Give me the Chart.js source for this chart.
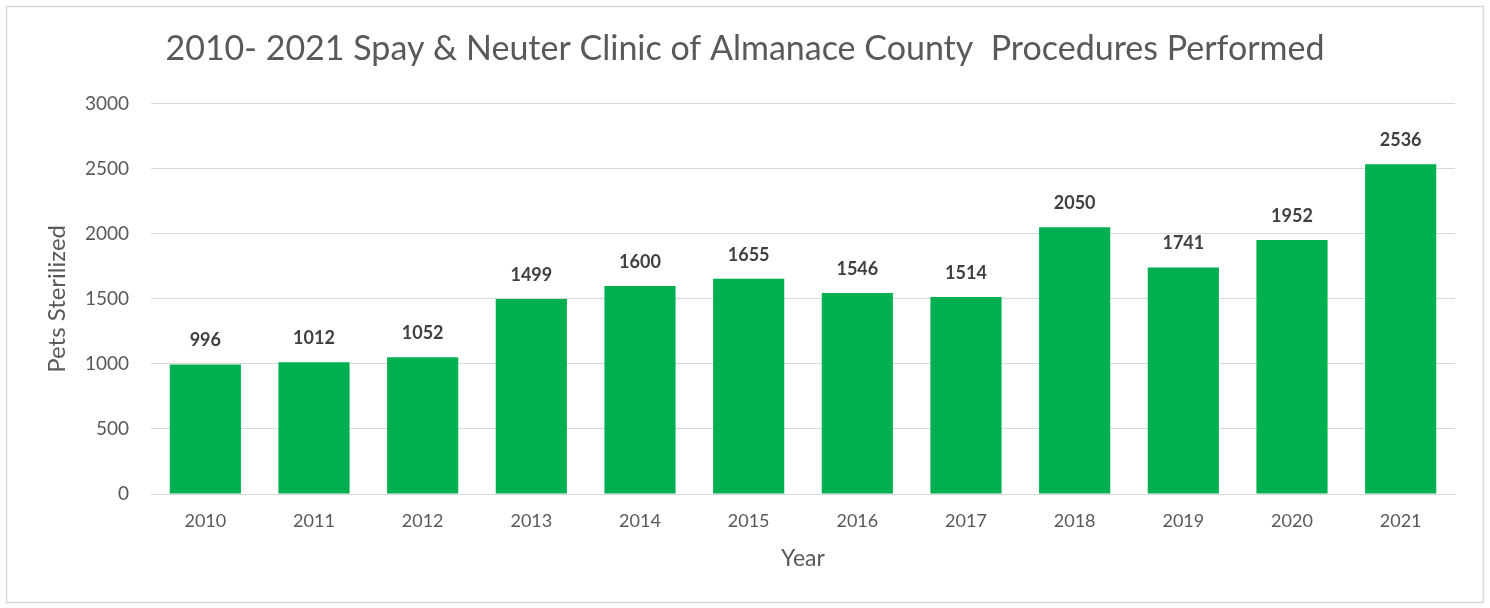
<!DOCTYPE html>
<html>
<head>
<meta charset="utf-8">
<title>Spay & Neuter Clinic Procedures</title>
<script src="https://cdn.jsdelivr.net/npm/chart.js@4"></script>
<style>
  html, body { margin: 0; padding: 0; background: #fff; }
  #chart-box { width: 1490px; height: 608px; }
</style>
</head>
<body>
<div id="chart-box"><canvas id="chart-canvas" width="1490" height="608"></canvas></div>
<script>
var years = ['2010', '2011', '2012', '2013', '2014', '2015', '2016', '2017', '2018', '2019', '2020', '2021'];
var petsSterilized = [996, 1012, 1052, 1499, 1600, 1655, 1546, 1514, 2050, 1741, 1952, 2536];
var yTicks = [0, 500, 1000, 1500, 2000, 2500, 3000];

var chartTitle = '2010- 2021 Spay & Neuter Clinic of Almanace County  Procedures Performed';
var fontName = 'Lato, "Open Sans", sans-serif';

// outer frame like the spreadsheet chart border
var framePlugin = {
  id: 'frame',
  beforeDraw: function(chart) {
    var ctx = chart.ctx;
    ctx.save();
    ctx.fillStyle = '#ffffff';
    ctx.fillRect(0, 0, chart.width, chart.height);
    ctx.strokeStyle = '#d9d9d9';
    ctx.lineWidth = 1.5;
    ctx.strokeRect(6.5, 6.5, chart.width - 13, chart.height - 12);
    ctx.restore();
  }
};

// value labels above each bar
var valueLabels = {
  id: 'valueLabels',
  afterDatasetsDraw: function(chart) {
    var ctx = chart.ctx;
    var meta = chart.getDatasetMeta(0);
    ctx.save();
    ctx.font = 'bold 18px ' + fontName;
    ctx.fillStyle = '#404040';
    ctx.textAlign = 'center';
    ctx.textBaseline = 'middle';
    for (var i = 0; i < meta.data.length; i++) {
      var bar = meta.data[i];
      ctx.fillText(String(petsSterilized[i]), bar.x, bar.y - 24);
    }
    ctx.restore();
  }
};

var chart = new Chart(document.getElementById('chart-canvas').getContext('2d'), {
  type: 'bar',
  data: {
    labels: years,
    datasets: [{
      label: 'Pets Sterilized',
      data: petsSterilized,
      backgroundColor: '#00b050',
      borderWidth: 0,
      barPercentage: 0.655,
      categoryPercentage: 1
    }]
  },
  options: {
    responsive: false,
    animation: false,
    devicePixelRatio: 1,
    layout: {
      padding: { top: 8, left: 8, right: 8, bottom: 34 }
    },
    plugins: {
      legend: { display: false },
      tooltip: { enabled: false },
      title: {
        display: true,
        text: chartTitle,
        color: '#595959',
        font: { family: fontName, size: 34, weight: 'normal' },
        padding: { top: 21, bottom: 34 }
      }
    },
    scales: {
      x: {
        grid: { display: false, drawTicks: false },
        border: { display: true, color: '#d9d9d9', width: 1 },
        ticks: {
          color: '#595959',
          font: { family: fontName, size: 18 },
          padding: 16,
          maxRotation: 0
        },
        title: {
          display: true,
          text: 'Year',
          color: '#595959',
          font: { family: fontName, size: 23 },
          padding: { top: 2, bottom: 2 }
        },
        afterFit: function(scale) { scale.height = 80; }
      },
      y: {
        min: 0,
        max: 3000,
        afterBuildTicks: function(scale) {
          scale.ticks = yTicks.map(function(v) { return { value: v }; });
        },
        grid: { color: '#d9d9d9', lineWidth: 1, drawTicks: false },
        border: { display: false },
        ticks: {
          color: '#595959',
          font: { family: fontName, size: 19 },
          padding: 22,
          callback: function(value) { return String(value); }
        },
        title: {
          display: true,
          text: 'Pets Sterilized',
          color: '#595959',
          font: { family: fontName, size: 24 },
          padding: { top: 35, bottom: 0 }
        },
        afterFit: function(scale) { scale.width = 143; }
      },
      // empty right-hand axis, only keeps the margin right of the bars
      yRight: {
        position: 'right',
        min: 0,
        max: 3000,
        grid: { display: false, drawTicks: false },
        border: { display: false },
        ticks: { display: false },
        afterFit: function(scale) { scale.width = 27; }
      }
    }
  },
  plugins: [framePlugin, valueLabels]
});
</script>
</body>
</html>
